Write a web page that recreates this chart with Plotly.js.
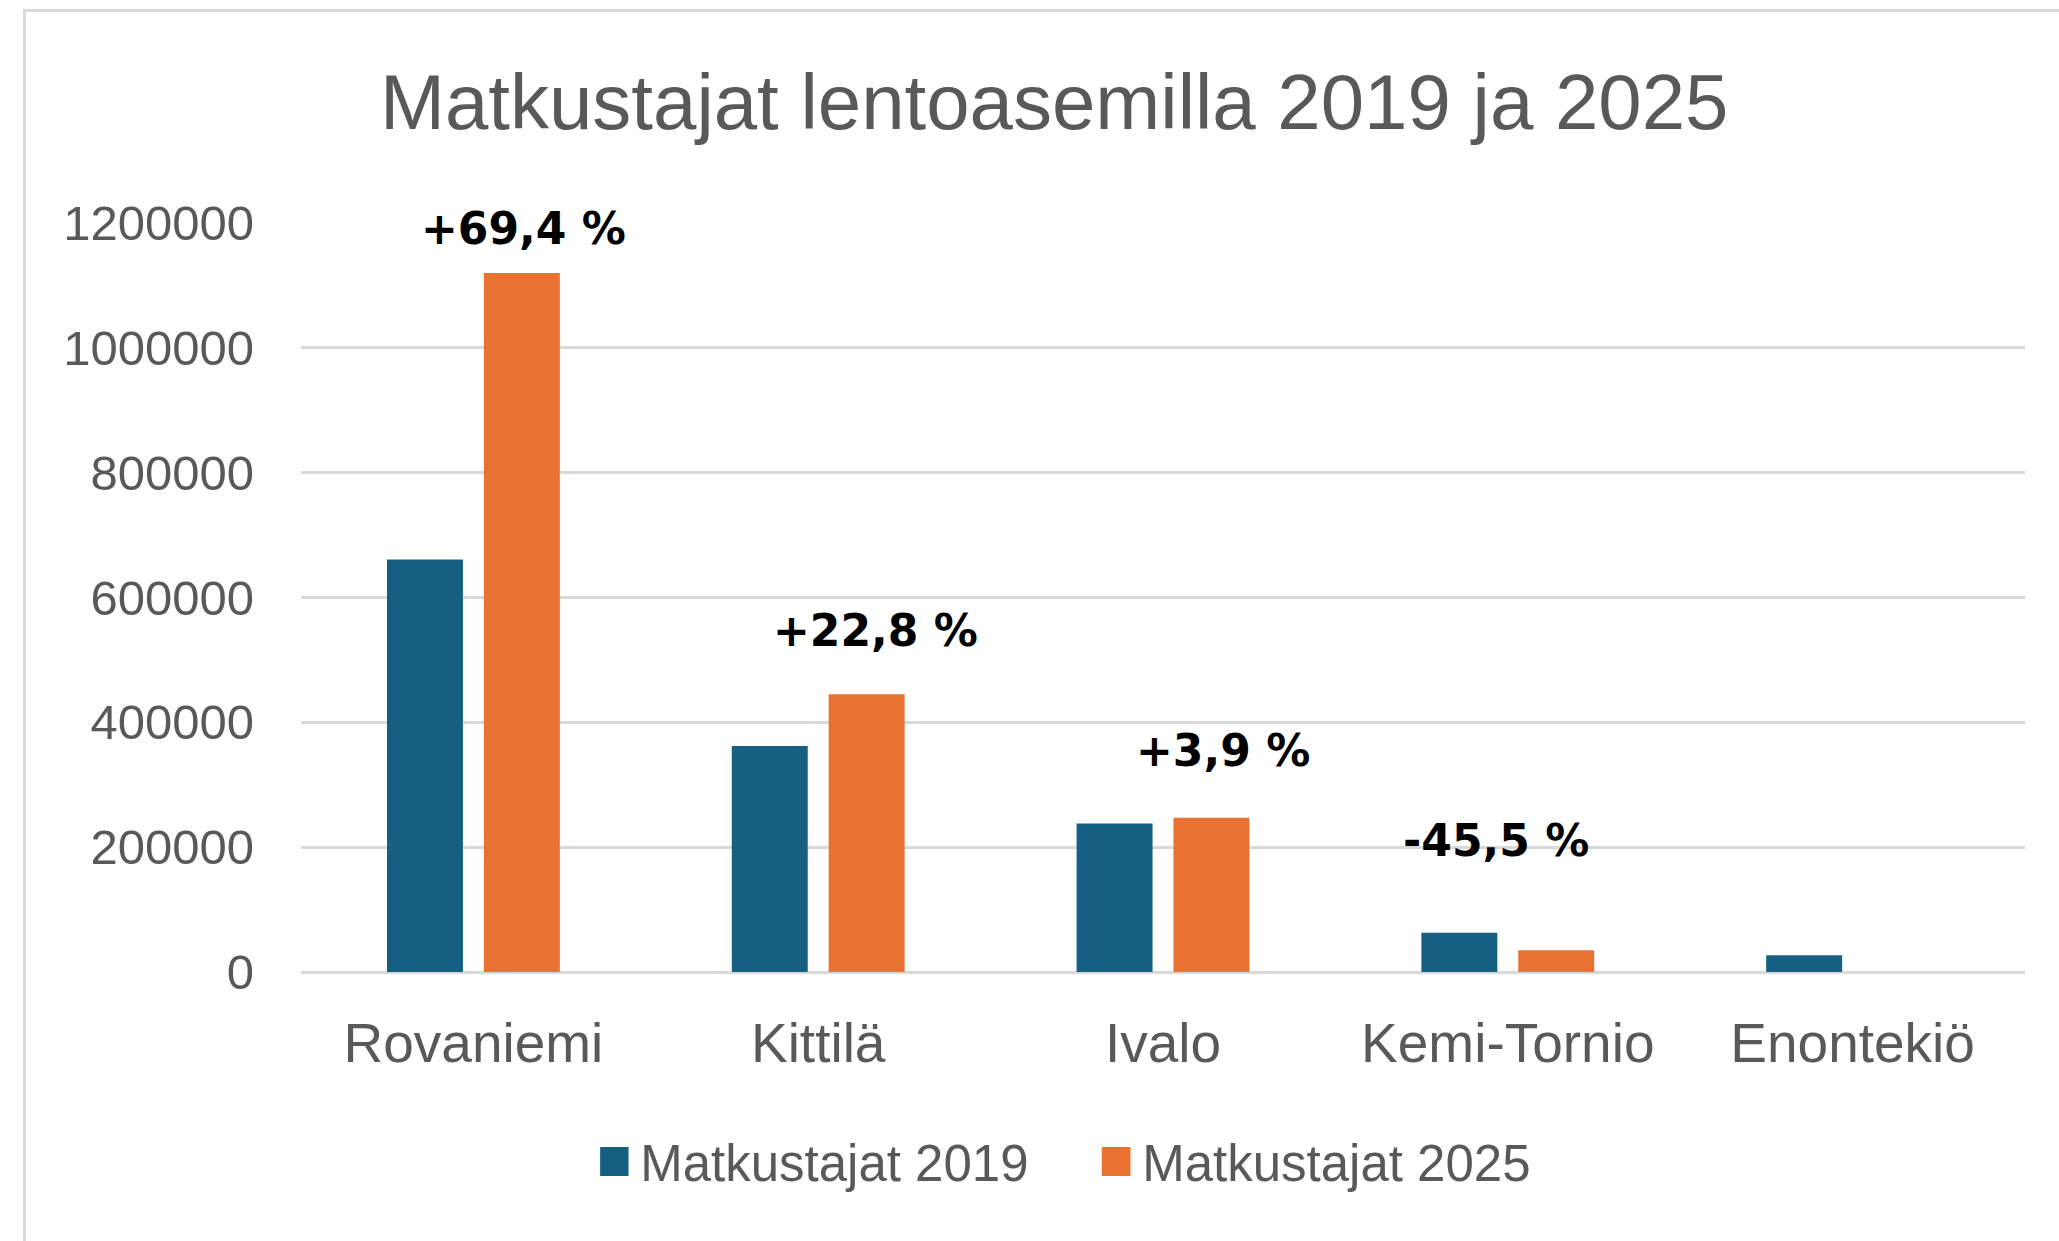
<!DOCTYPE html>
<html>
<head>
<meta charset="utf-8">
<script src="https://cdn.plot.ly/plotly-3.0.1.min.js"></script>
<style>html,body{margin:0;padding:0;background:#fff;}#chart{width:2059px;height:1241px;}</style>
</head>
<body>
<div id="chart"></div>
<script>
// ---- data ----
var categories = ['Rovaniemi', 'Kittilä', 'Ivalo', 'Kemi-Tornio', 'Enontekiö'];
var seriesNames = ['Matkustajat 2019', 'Matkustajat 2025'];
var passengers2019 = [661000, 362000, 238000, 63000, 27000];
var passengers2025 = [1120000, 445000, 247000, 35000, null];
var changeLabels = ['+69,4 %', '+22,8 %', '+3,9 %', '-45,5 %', ''];
var yTicks = [0, 200000, 400000, 600000, 800000, 1000000, 1200000];

// ---- styling ----
var colors = ['#156082', '#E97132'];
var grey = '#595959';
var gridGrey = '#D9D9D9';
var baseFont = 'Liberation Sans, Arial, sans-serif';
// label placement offsets (px) relative to the 2025 bar top of each category
var labelShift = [
  {dx: 50, dy: 44},
  {dx: 57, dy: 64},
  {dx: 60, dy: 67},
  {dx: -12, dy: 110}
];

var traces = [
  {type: 'bar', name: seriesNames[0], x: categories, y: passengers2019,
   marker: {color: colors[0]}, hoverinfo: 'x+y'},
  {type: 'bar', name: seriesNames[1], x: categories, y: passengers2025,
   marker: {color: colors[1]}, hoverinfo: 'x+y'}
];

var annotations = [];
changeLabels.forEach(function (t, i) {
  if (!t) return;
  var base = passengers2025[i] != null ? passengers2025[i] : 0;
  annotations.push({
    x: categories[i], y: base, xref: 'x', yref: 'y',
    text: t, showarrow: false,
    xshift: labelShift[i].dx, yshift: labelShift[i].dy,
    xanchor: 'center', yanchor: 'middle',
    font: {family: 'DejaVu Sans, sans-serif', size: 44, color: '#000000', weight: 'bold'}
  });
});

var layout = {
  width: 2059, height: 1241,
  paper_bgcolor: '#ffffff', plot_bgcolor: '#ffffff',
  margin: {l: 301, r: 34, t: 223, b: 269, pad: 0},
  title: {
    text: 'Matkustajat lentoasemilla 2019 ja 2025',
    font: {family: baseFont, size: 78, color: grey},
    x: 0.512, xanchor: 'center', xref: 'container',
    y: 0.918, yanchor: 'middle', yref: 'container'
  },
  barmode: 'group',
  bargap: 0.438,
  bargroupgap: 0.216,
  xaxis: {
    type: 'category',
    tickfont: {family: baseFont, size: 55, color: grey},
    showgrid: false, showline: false, ticks: '',
    ticklabelstandoff: 34
  },
  yaxis: {
    range: [0, 1200000],
    tickvals: yTicks,
    tickformat: 'd',
    tickfont: {family: baseFont, size: 49, color: grey},
    showgrid: true, gridcolor: gridGrey, gridwidth: 3,
    zeroline: true, zerolinecolor: gridGrey, zerolinewidth: 3,
    showline: false, ticks: '',
    ticklabelstandoff: 46,
    fixedrange: true
  },
  showlegend: true,
  legend: {
    orientation: 'h',
    entrywidth: 457,
    x: 0.4647, xanchor: 'center',
    y: -0.2535, yanchor: 'middle',
    font: {family: baseFont, size: 51, color: grey},
    itemclick: false, itemdoubleclick: false,
    bgcolor: 'rgba(0,0,0,0)'
  },
  annotations: annotations,
  shapes: [{
    type: 'rect', xref: 'paper', yref: 'paper',
    x0: -0.1604, x1: 1.2, y0: -0.5, y1: 1.2837,
    line: {color: gridGrey, width: 3}, fillcolor: 'rgba(0,0,0,0)', layer: 'below'
  }]
};

Plotly.newPlot('chart', traces, layout, {displayModeBar: false, responsive: false}).then(function (gd) {
  // enlarge legend colour squares to match the reference
  gd.querySelectorAll('.legendpoints path').forEach(function (p) {
    var tr = p.getAttribute('transform') || '';
    p.setAttribute('transform', tr + ' translate(-6,0) scale(2.4)');
  });
});
</script>
</body>
</html>
